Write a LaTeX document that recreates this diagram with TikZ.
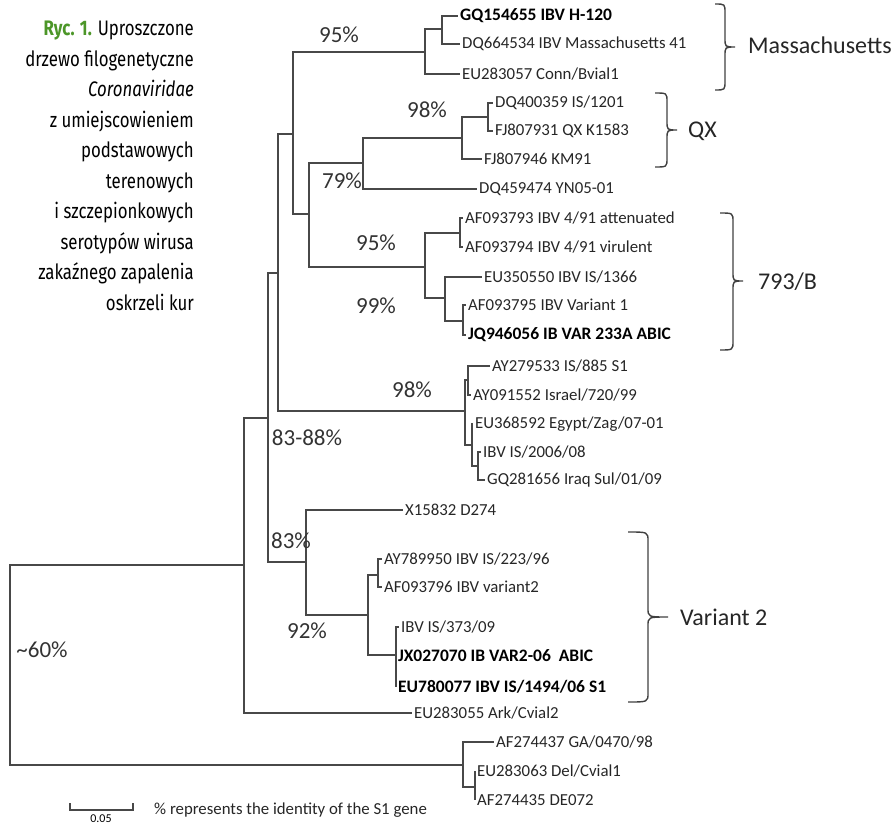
\documentclass[tikz,border=0pt]{standalone}
\usepackage{fontspec}
\setmainfont{Carlito}
\newfontfamily\capfont[FakeStretch=0.8]{Fira Sans}
\definecolor{rycgreen}{RGB}{76,150,40}
\definecolor{treegray}{RGB}{72,72,72}
\tikzset{
  branch/.style={draw=treegray,line width=1.4pt},
  leaf/.style={anchor=west,inner sep=2pt,text=black!85,font=\fontsize{16.8}{16.8}\selectfont},
  leafb/.style={leaf,text=black,font=\fontsize{17.5}{17.5}\selectfont\bfseries},
  boot/.style={inner sep=0pt,text=black!80,font=\fontsize{23}{23}\selectfont},
  clade/.style={anchor=west,inner sep=0pt,text=black!85,font=\fontsize{24}{24}\selectfont},
  clbrace/.style={draw=black!75,line width=1.4pt},
}

\begin{document}
\begin{tikzpicture}[x=1pt,y=-1pt]
    \useasboundingbox (0,0) rectangle (895,827);

    % caption
    \node[anchor=north east,align=right,inner sep=0pt,font=\capfont\fontsize{21}{30.5}\selectfont] (caption) at (194,21)
        {{\color{rycgreen}\bfseries Ryc. 1.} Uproszczone\\
         drzewo filogenetyczne\\
         \textit{Coronaviridae}\\
         z umiejscowieniem\\
         podstawowych\\
         terenowych\\
         i szczepionkowych\\
         serotypów wirusa\\
         zakaźnego zapalenia\\
         oskrzeli kur};

    % internal nodes
    \coordinate (root) at (10,664);
    \coordinate (nA) at (244,565);
    \coordinate (nB) at (268,418);
    \coordinate (nC) at (278,273);
    \coordinate (nD) at (293,134);
    \coordinate (nMass) at (425,52);
    \coordinate (nMass2) at (442,29);
    \coordinate (nF) at (309,214);
    \coordinate (nQX) at (363,163);
    \coordinate (nQX1) at (462,138);
    \coordinate (nQX2) at (488,117);
    \coordinate (nB793) at (425,267);
    \coordinate (nB793a) at (460,233);
    \coordinate (nB793b) at (445,298);
    \coordinate (nB793c) at (463,321);
    \coordinate (nIs) at (465,411);
    \coordinate (nIs1) at (468,380);
    \coordinate (nIs2) at (472,445);
    \coordinate (nIs3) at (478,466);
    \coordinate (nE) at (306,562);
    \coordinate (nG) at (368,615);
    \coordinate (nG1) at (378,575);
    \coordinate (nG2) at (396,655);
    \coordinate (nBot) at (463,765);
    \coordinate (nBot1) at (475,787);

    % leaves
    \node[leafb] (gq154655) at (458,16) {GQ154655 IBV H-120};
    \node[leaf] (dq664534) at (460,44) {DQ664534 IBV Massachusetts 41};
    \node[leaf] (eu283057) at (460,74) {EU283057 Conn/Bvial1};
    \node[leaf] (dq400359) at (493,103) {DQ400359 IS/1201};
    \node[leaf] (fj807931) at (493,131) {FJ807931 QX K1583};
    \node[leaf] (fj807946) at (482,159) {FJ807946 KM91};
    \node[leaf] (dq459474) at (477,189) {DQ459474 YN05-01};
    \node[leaf] (af093793) at (463,218) {AF093793 IBV 4/91 attenuated};
    \node[leaf] (af093794) at (463,247) {AF093794 IBV 4/91 virulent};
    \node[leaf] (eu350550) at (482,277) {EU350550 IBV IS/1366};
    \node[leaf] (af093795) at (466,305) {AF093795 IBV Variant 1};
    \node[leafb] (jq946056) at (466,335) {JQ946056 IB VAR 233A ABIC};
    \node[leaf] (ay279533) at (490,366) {AY279533 IS/885 S1};
    \node[leaf] (ay091552) at (471,395) {AY091552 Israel/720/99};
    \node[leaf] (eu368592) at (473,424) {EU368592 Egypt/Zag/07-01};
    \node[leaf] (is200608) at (481,452) {IBV IS/2006/08};
    \node[leaf] (gq281656) at (485,480) {GQ281656 Iraq Sul/01/09};
    \node[leaf] (x15832) at (403,510) {X15832 D274};
    \node[leaf] (ay789950) at (382,559) {AY789950 IBV IS/223/96};
    \node[leaf] (af093796) at (382,587) {AF093796 IBV variant2};
    \node[leaf] (is37309) at (399,627) {IBV IS/373/09};
    \node[leafb] (jx027070) at (396,656) {JX027070 IB VAR2-06\ \ ABIC};
    \node[leafb] (eu780077) at (396,687) {EU780077 IBV IS/1494/06 S1};
    \node[leaf] (eu283055) at (412,713) {EU283055 Ark/Cvial2};
    \node[leaf] (af274437) at (494,742) {AF274437 GA/0470/98};
    \node[leaf] (eu283063) at (475,771) {EU283063 Del/Cvial1};
    \node[leaf] (af274435) at (475,800) {AF274435 DE072};

    % branches
    \draw[branch] (root) |- (nA) (root) |- (nBot);
    \draw[branch] (nA) |- (nB) (nA) |- (eu283055.west);
    \draw[branch] (nB) |- (nC) (nB) |- (nE);
    \draw[branch] (nC) |- (nD) (nC) |- (nIs);
    \draw[branch] (nD) |- (nMass) (nD) |- (nF);
    \draw[branch] (nMass) |- (nMass2) (nMass) |- (eu283057.west);
    \draw[branch] (nMass2) |- (gq154655.west) (nMass2) |- (dq664534.west);
    \draw[branch] (nF) |- (nQX) (nF) |- (nB793);
    \draw[branch] (nQX) |- (nQX1) (nQX) |- (dq459474.west);
    \draw[branch] (nQX1) |- (nQX2) (nQX1) |- (fj807946.west);
    \draw[branch] (nQX2) |- (dq400359.west) (nQX2) |- (fj807931.west);
    \draw[branch] (nB793) |- (nB793a) (nB793) |- (nB793b);
    \draw[branch] (nB793a) |- (af093793.west) (nB793a) |- (af093794.west);
    \draw[branch] (nB793b) |- (eu350550.west) (nB793b) |- (nB793c);
    \draw[branch] (nB793c) |- (af093795.west) (nB793c) |- (jq946056.west);
    \draw[branch] (nIs) |- (nIs1) (nIs) |- (nIs2);
    \draw[branch] (nIs1) |- (ay279533.west) (nIs1) |- (ay091552.west);
    \draw[branch] (nIs2) |- (eu368592.west) (nIs2) |- (nIs3);
    \draw[branch] (nIs3) |- (is200608.west) (nIs3) |- (gq281656.west);
    \draw[branch] (nE) |- (x15832.west) (nE) |- (nG);
    \draw[branch] (nG) |- (nG1) (nG) |- (nG2);
    \draw[branch] (nG1) |- (ay789950.west) (nG1) |- (af093796.west);
    \draw[branch] (nG2) |- (is37309.west) (nG2) |- (jx027070.west) (nG2) |- (eu780077.west);
    \draw[branch] (nBot) |- (af274437.west) (nBot) |- (nBot1);
    \draw[branch] (nBot1) |- (eu283063.west) (nBot1) |- (af274435.west);

    % bootstrap values
    \node[boot] (bMass) at (339,35) {95\%};
    \node[boot] (bQX) at (427,110) {98\%};
    \node[boot] (bQXo) at (342,181) {79\%};
    \node[boot] (bB793) at (376,243) {95\%};
    \node[boot] (bB793b) at (376,306) {99\%};
    \node[boot] (bIs) at (412,390) {98\%};
    \node[boot] (bC) at (307,438) {83-88\%};
    \node[boot] (bE) at (291,541) {83\%};
    \node[boot] (bG) at (307,631) {92\%};
    \node[boot] (bRoot) at (42,650) {\textasciitilde 60\%};

    % clades
    \draw[clbrace] (715,4) .. controls (725,4) .. (725,13) -- (725,38) .. controls (725,47) .. (735,47)
                   .. controls (725,47) .. (725,56) -- (725,81) .. controls (725,90) .. (715,90);
    \draw[clbrace] (655,93) .. controls (667,93) .. (667,102) -- (667,121) .. controls (667,130) .. (677,130)
                   .. controls (667,130) .. (667,139) -- (667,158) .. controls (667,167) .. (655,167);
    \draw[clbrace] (720,213) .. controls (733,213) .. (733,222) -- (733,272) .. controls (733,281) .. (743,281)
                   .. controls (733,281) .. (733,290) -- (733,341) .. controls (733,350) .. (720,350);
    \draw[clbrace] (628,532) .. controls (648,532) .. (648,541) -- (648,608) .. controls (648,617) .. (668,617)
                   .. controls (648,617) .. (648,626) -- (648,693) .. controls (648,702) .. (628,702);
    \node[clade] (cMass) at (748,45) {Massachusetts};
    \node[clade] (cQX) at (688,131) {QX};
    \node[clade] (cB793) at (758,282) {793/B};
    \node[clade] (cVar2) at (680,617) {Variant 2};

    % scale
    \coordinate (sbLt) at (70,803);
    \coordinate (sbL) at (70,810);
    \coordinate (sbR) at (133,810);
    \coordinate (sbRt) at (133,803);
    \draw[branch] (sbLt) -- (sbL) -- (sbR) -- (sbRt);
    \node[inner sep=0pt,font=\fontsize{12}{12}\selectfont] (sbLbl) at (101,819) {0.05};
    \node[leaf] (note) at (152,810) {\% represents the identity of the S1 gene};
\end{tikzpicture}
\end{document}
